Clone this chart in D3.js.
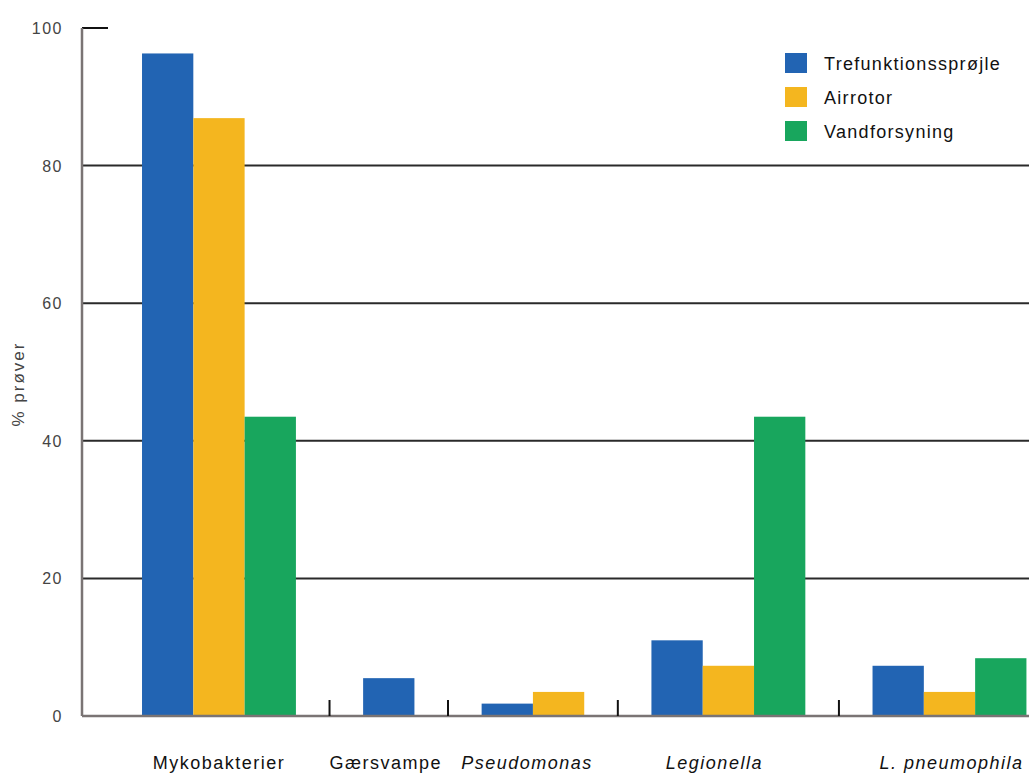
<!DOCTYPE html>
<html>
<head>
<meta charset="utf-8">
<script src="https://cdn.jsdelivr.net/npm/d3@7"></script>
<style>
  html, body { margin: 0; padding: 0; background: #fff; }
  svg { display: block; font-family: "Liberation Sans", Arial, sans-serif; }
</style>
</head>
<body>
<svg id="chart" width="1029" height="774"></svg>
<script>
// ---- data ----
const categories = ["Mykobakterier", "Gærsvampe", "Pseudomonas", "Legionella", "L. pneumophila"];
const italicCats = [false, false, true, true, true];
const seriesNames = ["Trefunktionssprøjle", "Airrotor", "Vandforsyning"];
const trefunktion = [96.3, 5.5, 1.8, 11.0, 7.3];
const airrotor    = [86.9, 0,   3.5, 7.3,  3.5];
const vandforsyn  = [43.5, 0,   0,   43.5, 8.4];
const yTicks = [0, 20, 40, 60, 80, 100];
const yLabel = "% prøver";

const seriesValues = [trefunktion, airrotor, vandforsyn];
const colors = ["#2264b3", "#f4b61f", "#18a65d"];

// ---- layout ----
const svg = d3.select("#chart");
const plotLeft = 82, plotRight = 1029, plotTop = 28, plotBottom = 716;

// x positions in "bar units": only non-zero bars take a slot
const leftPad = 1.17, groupGap = 1.31, rightPad = 0.05;
const bars = [];
const groups = [];
let u = leftPad;
categories.forEach((c, ci) => {
  const start = u;
  seriesValues.forEach((vals, si) => {
    if (vals[ci] > 0) { bars.push({ cat: c, ci, si, value: vals[ci], u0: u }); u += 1; }
  });
  groups.push({ cat: c, ci, u0: start, u1: u });
  if (ci < categories.length - 1) u += groupGap;
});
const totalUnits = u + rightPad;

const x = d3.scaleLinear().domain([0, totalUnits]).range([plotLeft, plotRight]);
const y = d3.scaleLinear().domain([0, 100]).range([plotBottom, plotTop]);

// gridlines
svg.append("g").selectAll("line")
  .data(yTicks.filter(t => t > 0 && t < 100))
  .join("line")
  .attr("x1", plotLeft).attr("x2", plotRight)
  .attr("y1", d => y(d)).attr("y2", d => y(d))
  .attr("stroke", "#2a2a2a").attr("stroke-width", 2);

// top short tick
svg.append("line")
  .attr("x1", plotLeft).attr("x2", plotLeft + 26)
  .attr("y1", y(100)).attr("y2", y(100))
  .attr("stroke", "#111").attr("stroke-width", 2);

// bars
svg.append("g").selectAll("rect")
  .data(bars)
  .join("rect")
  .attr("x", d => x(d.u0))
  .attr("width", d => x(d.u0 + 1) - x(d.u0))
  .attr("y", d => y(d.value))
  .attr("height", d => y(0) - y(d.value))
  .attr("fill", d => colors[d.si]);

// y axis line and baseline
svg.append("line")
  .attr("x1", plotLeft).attr("x2", plotLeft).attr("y1", y(100)).attr("y2", y(0))
  .attr("stroke", "#7a7474").attr("stroke-width", 2.5);
svg.append("line")
  .attr("x1", plotLeft).attr("x2", plotRight).attr("y1", y(0)).attr("y2", y(0))
  .attr("stroke", "#7a7474").attr("stroke-width", 2.5);

// separator ticks between groups
const seps = groups.slice(0, -1).map((g, i) => (g.u1 + groups[i + 1].u0) / 2);
svg.append("g").selectAll("line")
  .data(seps)
  .join("line")
  .attr("x1", d => x(d)).attr("x2", d => x(d))
  .attr("y1", y(0) - 16).attr("y2", y(0))
  .attr("stroke", "#111").attr("stroke-width", 2);

// y tick labels
svg.append("g").selectAll("text")
  .data(yTicks)
  .join("text")
  .attr("x", 63)
  .attr("y", d => y(d) + 6)
  .attr("text-anchor", "end")
  .attr("font-size", 16)
  .attr("letter-spacing", 1.5)
  .attr("fill", "#444")
  .text(d => d);

// y label
svg.append("text")
  .attr("transform", `translate(24, ${384}) rotate(-90)`)
  .attr("text-anchor", "middle")
  .attr("font-size", 17)
  .attr("letter-spacing", 2)
  .attr("fill", "#444")
  .text(yLabel);

// x category labels
const labelShift = [0, -3, -6, -14, 2];
svg.append("g").selectAll("text")
  .data(groups)
  .join("text")
  .attr("x", d => x((d.u0 + d.u1) / 2) + labelShift[d.ci])
  .attr("y", 769)
  .attr("text-anchor", "middle")
  .attr("font-size", 18)
  .attr("letter-spacing", 1.5)
  .attr("font-style", d => italicCats[d.ci] ? "italic" : "normal")
  .attr("fill", "#111")
  .text(d => d.cat);

// legend
const legend = svg.append("g");
seriesNames.forEach((name, i) => {
  legend.append("rect")
    .attr("x", 785).attr("y", 53 + i * 34)
    .attr("width", 22).attr("height", 20)
    .attr("fill", colors[i]);
  legend.append("text")
    .attr("x", 824).attr("y", 70 + i * 34)
    .attr("font-size", 18)
    .attr("letter-spacing", 1.3)
    .attr("fill", "#111")
    .text(name);
});
</script>
</body>
</html>
